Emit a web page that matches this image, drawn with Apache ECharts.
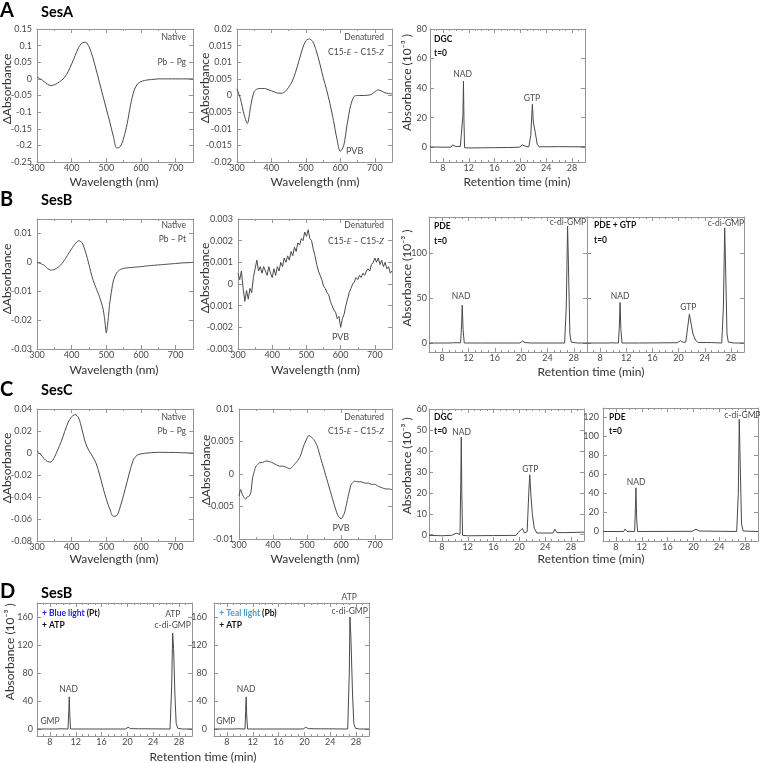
<!DOCTYPE html>
<html><head><meta charset="utf-8">
<script src="https://cdn.jsdelivr.net/npm/echarts@6/dist/echarts.min.js"></script>
<style>html,body{margin:0;padding:0;background:#fff}#c{width:760px;height:763px}</style>
</head><body><div id="c"></div>
<script>
// ---------------- DATA ----------------
const wl10 = [300,310,320,330,340,350,360,370,380,390,400,410,420,430,440,450,460,470,480,490,500,510,520,530,540,550,560,570,580,590,600,610,620,630,640,650,660,670,680,690,700,710,720,730,740,750];
const wl5 = [300,305,310,315,320,325,330,335,340,345,350,355,360,365,370,375,380,385,390,395,400,405,410,415,420,425,430,435,440,445,450,455,460,465,470,475,480,485,490,495,500,505,510,515,520,525,530,535,540,545,550,555,560,565,570,575,580,585,590,595,600,605,610,615,620,625,630,635,640,645,650,655,660,665,670,675,680,685,690,695,700,705,710,715,720,725,730,735,740,745,750];

const sesA_native = [0.005,0.0,-0.008,-0.016,-0.020,-0.018,-0.012,-0.005,0.005,0.022,0.045,0.070,0.094,0.108,0.110,0.097,0.068,0.030,-0.010,-0.050,-0.090,-0.130,-0.172,-0.208,-0.204,-0.178,-0.135,-0.078,-0.035,-0.015,-0.008,-0.005,-0.003,-0.002,-0.001,0,0,0,0,0,0,0,0,0,0,0];
const sesA_denat = [0.002,-0.001,-0.0055,-0.0084,-0.003,0.0012,0.002,0.0021,0.0021,0.0018,0.0014,0.001,0.0007,0.0007,0.0012,0.0025,0.0042,0.007,0.0105,0.014,0.0165,0.017,0.0162,0.0135,0.0098,0.0055,0.0018,-0.0025,-0.0075,-0.013,-0.0168,-0.015,-0.0085,-0.003,-0.0003,0,0,0,0.0001,0.0003,0.0011,0.0017,0.0013,0.0008,0.0006,0.0005];
const sesA_DGC = [[6,0.2],[8,0.0],[9.25,0.1],[9.5,1.5],[9.75,0.3],[10.0,0.5],[10.3,0.9],[10.7,0.6],[11.0,0.2],[11.1,22],[11.18,44.7],[11.26,18],[11.35,-0.3],[12,-0.5],[14,-0.4],[16,-0.3],[18,-0.2],[19.8,0],[20.3,1.5],[20.55,2.3],[20.9,0.5],[21.3,0.3],[21.6,8],[21.85,29],[22.0,17],[22.3,10],[22.6,2],[22.9,0.3],[24,0.3],[25.6,0.4],[25.85,1.2],[26.1,0.4],[28,0.3],[30,0.3]];

const sesB_nat_wl = [300,310,320,330,340,350,360,370,380,390,400,410,420,430,440,450,460,470,480,490,495,500,505,510,520,530,540,550,560,570,580,590,600,620,640,660,680,700,720,740,750];
const sesB_native = [0.0000,-0.0004,-0.0010,-0.0021,-0.0027,-0.0025,-0.0018,-0.0007,0.0009,0.0028,0.0047,0.0064,0.0075,0.0068,0.0036,-0.0008,-0.0055,-0.0088,-0.0118,-0.0158,-0.0195,-0.0245,-0.0200,-0.0140,-0.0065,-0.0036,-0.0025,-0.0021,-0.0019,-0.0018,-0.0017,-0.0016,-0.0015,-0.0012,-0.0010,-0.0008,-0.0006,-0.0004,-0.0002,-0.0001,0.0000];
const sesB_denat = [0.0005,0.0002,0.0006,-0.0002,-0.0008,-0.0003,-0.0007,-0.0002,-0.0004,0.0003,0.0007,0.0011,0.0006,0.0008,0.0005,0.0008,0.0006,0.0004,0.0008,0.0005,0.0003,0.0007,0.0004,0.0008,0.0006,0.0010,0.0008,0.0012,0.0010,0.0013,0.0011,0.0015,0.0013,0.0017,0.0015,0.0019,0.0018,0.0021,0.0020,0.0024,0.0022,0.0025,0.0021,0.0020,0.0016,0.0013,0.0009,0.0006,0.0004,0.0002,-0.0001,-0.0002,-0.0004,-0.0005,-0.0008,-0.0010,-0.0012,-0.0013,-0.0016,-0.0015,-0.0020,-0.0016,-0.0014,-0.0010,-0.0007,-0.0004,-0.0002,0.0000,0.0001,0.0003,0.0002,0.0004,0.0003,0.0005,0.0004,0.0006,0.0007,0.0006,0.0009,0.0010,0.0012,0.0010,0.0012,0.0009,0.0011,0.0008,0.0010,0.0007,0.0008,0.0005,0.0006];
const sesB_PDE = [[6,0],[9.2,0],[9.45,2],[9.7,0.3],[10.8,0.2],[10.95,20],[11.05,42],[11.18,15],[11.35,0],[14,0],[19.8,0],[20.2,2],[20.6,0.5],[21.5,0],[26.6,0],[26.85,40],[27.05,130],[27.2,80],[27.4,10],[27.6,1],[28.5,0],[30,0]];
const sesB_PDE_GTP = [[6,0],[9.2,0],[9.5,1.5],[9.8,0.2],[10.8,0],[10.95,20],[11.05,45],[11.18,15],[11.35,0],[14,0],[19.8,0.3],[20.3,2.5],[20.7,0.8],[21.1,1],[21.4,18],[21.65,32],[21.9,22],[22.2,10],[22.6,3],[23.0,0.5],[25.0,0.5],[25.3,1.5],[25.6,0.3],[26.6,0],[26.85,40],[27.05,128],[27.2,80],[27.4,10],[27.6,1],[28.5,0],[30,0]];

const sesC_nat = [0.002,-0.001,-0.005,-0.0078,-0.0082,-0.004,0.003,0.0105,0.0196,0.028,0.033,0.0348,0.032,0.021,0.009,0.002,-0.003,-0.009,-0.019,-0.031,-0.042,-0.051,-0.0575,-0.057,-0.049,-0.038,-0.026,-0.014,-0.005,-0.0018,-0.0008,-0.0003,0,0.0003,0.0005,0.0006,0.0006,0.0006,0.0005,0.0005,0.0004,0.0003,0.0002,0.0001,0,0];
const sesC_den_wl = [300,305,310,315,320,325,330,335,340,345,350,360,370,380,390,400,410,420,430,440,450,460,470,480,490,500,505,510,520,530,540,550,560,570,580,590,600,610,620,630,640,650,660,670,680,690,700,710,720,730,740,750];
const sesC_denat = [-0.0034,-0.0024,-0.0032,-0.0036,-0.0039,-0.0035,-0.0034,-0.0028,-0.0006,0.0004,0.0012,0.0017,0.0018,0.0020,0.0019,0.0017,0.0014,0.0012,0.0012,0.0010,0.0008,0.0013,0.0019,0.0027,0.0043,0.0055,0.0059,0.0058,0.0053,0.0043,0.0025,0.0007,-0.0011,-0.0029,-0.0047,-0.0063,-0.0069,-0.0060,-0.0037,-0.0016,-0.0011,-0.0012,-0.0012,-0.0014,-0.0014,-0.0016,-0.0016,-0.0019,-0.0021,-0.0023,-0.0023,-0.0024];
const sesC_DGC = [[6,-0.3],[8,-0.5],[9.5,-0.3],[10.2,0.7],[10.5,0.6],[10.8,0.2],[10.92,25],[11.0,46.6],[11.08,20],[11.2,-0.3],[12,-0.5],[16,-0.4],[19.5,-0.3],[19.8,1],[20.0,0.3],[20.45,3],[20.8,0.8],[21.2,1.5],[21.45,20],[21.6,28.6],[21.8,18],[22.0,10],[22.3,3],[22.7,0.8],[25.2,0.8],[25.5,2.6],[25.8,1],[27,1.0],[30,1.2]];
const sesC_PDE = [[6,0],[9.2,0],[9.4,2.5],[9.7,0.2],[10.9,0],[11.02,25],[11.1,46],[11.2,15],[11.35,0],[19.8,0.2],[20.4,2.5],[20.9,0.5],[26.7,0],[26.95,40],[27.1,118],[27.25,70],[27.45,8],[27.7,0.5],[30,0]];

const sesB_blue = [[6,0],[7.3,0],[7.6,1.2],[7.9,0],[9.1,0],[9.4,2.5],[9.7,0.3],[10.8,0],[10.92,25],[11.0,46],[11.08,20],[11.2,0],[19.7,0],[20.1,2.5],[20.5,0.5],[21.7,0.3],[22.0,2.5],[22.4,0.3],[26.6,0],[26.85,60],[27.0,137],[27.15,115],[27.35,50],[27.55,8],[27.8,1],[28.5,0],[30,0]];
const sesB_teal = [[6,0],[7.3,0],[7.6,1.5],[7.9,0],[9.1,0],[9.4,2.5],[9.7,0.3],[10.8,0],[10.9,25],[10.98,46],[11.06,20],[11.2,0],[19.8,0],[20.2,2.5],[20.6,0.5],[21.8,0.3],[22.1,2.5],[22.5,0.3],[26.7,0],[26.95,80],[27.05,160],[27.2,130],[27.45,50],[27.65,8],[27.9,1],[28.5,0],[30,0]];

// tick values
const specX = [300,400,500,600,700];
const specXminor = [350,450,550,650];
const chromX = [8,12,16,20,24,28];
const chromXminor = [7,9,10,11,13,14,15,17,18,19,21,22,23,25,26,27,29];
const yA1 = [-0.25,-0.2,-0.15,-0.1,-0.05,0,0.05,0.1,0.15];
const yA2 = [-0.02,-0.015,-0.01,-0.005,0,0.005,0.01,0.015,0.02];
const yA3 = [0,20,40,60,80];
const yB1 = [-0.03,-0.02,-0.01,0,0.01];
const yB2 = [-0.003,-0.002,-0.001,0,0.001,0.002,0.003];
const yB3 = [0,50,100];
const yC1 = [-0.08,-0.06,-0.04,-0.02,0,0.02,0.04];
const yC2 = [-0.01,-0.005,0,0.005,0.01];
const yC3 = [0,10,20,30,40,50,60];
const yC4 = [0,20,40,60,80,100,120];
const yD = [0,40,80,120,160];

// ---------------- BUILD ----------------
const FONT = 'Lato, "Open Sans", sans-serif';
const FRAME = '#959595';
const LINE = '#4a4a4a';
const TXT = '#4a4a4a';
const fmt = v => String(Math.round(v * 1e6) / 1e6);
const zip = (a, b) => a.map((v, i) => [v, b[i]]);

const grids = [], xAxes = [], yAxes = [], series = [], graphics = [];

function axisX(gi, pos, r, ticks, labels, len, line) {
  return {gridIndex: gi, type: 'value', position: pos, min: r[0], max: r[1],
    axisLine: {show: line, onZero: false, lineStyle: {color: FRAME, width: 1}},
    axisTick: {show: true, inside: true, length: len, customValues: ticks, lineStyle: {color: FRAME, width: 1}},
    axisLabel: {show: labels, customValues: ticks, color: TXT, fontSize: 9, fontFamily: FONT, margin: 2, formatter: fmt},
    splitLine: {show: false}};
}
function axisY(gi, pos, r, ticks, labels, margin) {
  return {gridIndex: gi, type: 'value', position: pos, min: r[0], max: r[1],
    axisLine: {show: true, onZero: false, lineStyle: {color: FRAME, width: 1}},
    axisTick: {show: true, inside: true, length: 4, customValues: ticks, lineStyle: {color: FRAME, width: 1}},
    axisLabel: {show: labels, customValues: ticks, color: TXT, fontSize: 9, fontFamily: FONT, margin: margin, formatter: fmt},
    splitLine: {show: false}};
}
function panel(o) {
  const [l, t, w, h] = o.rect;
  const gi = grids.length;
  grids.push({left: l, top: t, width: w, height: h, outerBoundsMode: 'none', containLabel: false});
  const xb = xAxes.length, yl = yAxes.length;
  xAxes.push(axisX(gi, 'bottom', o.xr, o.xt, true, 4, true));
  xAxes.push(axisX(gi, 'top', o.xr, o.xt, false, 4, true));
  yAxes.push(axisY(gi, 'left', o.yr, o.yt, o.showY !== false, o.ym || 4));
  yAxes.push(axisY(gi, 'right', o.yr, o.yt, false, 4));
  series.push({type: 'line', xAxisIndex: xb, yAxisIndex: yl, data: o.data, symbol: 'none',
    smooth: o.smooth || false, lineStyle: {color: LINE, width: 1}, silent: true, clip: true});
  const gj = grids.length;
  grids.push({left: l, top: t, width: w, height: h, outerBoundsMode: 'none', containLabel: false});
  xAxes.push(axisX(gj, 'bottom', o.xr, o.xm, false, 2, false));
  xAxes.push(axisX(gj, 'top', o.xr, o.xm, false, 2, false));
  yAxes.push({gridIndex: gj, type: 'value', min: o.yr[0], max: o.yr[1], show: false});
}

// Row A
panel({rect: [37, 29, 156, 133], xr: [300, 750], xt: specX, xm: specXminor, yr: [-0.25, 0.15], yt: yA1, ym: 5, data: zip(wl10, sesA_native), smooth: 0.3});
panel({rect: [237, 29, 155, 133], xr: [300, 750], xt: specX, xm: specXminor, yr: [-0.02, 0.02], yt: yA2, ym: 5, data: zip(wl10, sesA_denat), smooth: 0.3});
panel({rect: [430, 29, 155, 133], xr: [6, 30], xt: chromX, xm: chromXminor, yr: [-10, 80], yt: yA3, ym: 3, data: sesA_DGC});
// Row B
panel({rect: [37, 219, 156, 130], xr: [300, 750], xt: specX, xm: specXminor, yr: [-0.03, 0.015], yt: yB1, ym: 5, data: zip(sesB_nat_wl, sesB_native), smooth: 0.2});
panel({rect: [238, 219, 154, 130], xr: [300, 750], xt: specX, xm: specXminor, yr: [-0.003, 0.003], yt: yB2, ym: 5, data: zip(wl5, sesB_denat)});
panel({rect: [429, 217, 158, 135], xr: [6, 30], xt: chromX, xm: chromXminor, yr: [-10, 140], yt: yB3, ym: 2, data: sesB_PDE});
panel({rect: [587, 217, 157, 135], xr: [6, 30], xt: chromX, xm: chromXminor, yr: [-10, 140], yt: yB3, showY: false, data: sesB_PDE_GTP});
// Row C
panel({rect: [37, 409, 156, 132], xr: [300, 750], xt: specX, xm: specXminor, yr: [-0.08, 0.04], yt: yC1, ym: 5, data: zip(wl10, sesC_nat), smooth: 0.3});
panel({rect: [239, 409, 153, 130], xr: [300, 750], xt: specX, xm: specXminor, yr: [-0.01, 0.01], yt: yC2, ym: 5, data: zip(sesC_den_wl, sesC_denat), smooth: 0.2});
panel({rect: [429, 409, 155, 132], xr: [6, 30], xt: chromX, xm: chromXminor, yr: [-3, 60], yt: yC3, ym: 2, data: sesC_DGC});
panel({rect: [603, 408, 155, 133], xr: [6, 30], xt: chromX, xm: chromXminor, yr: [-10, 130], yt: yC4, ym: 4, data: sesC_PDE});
// Row D
panel({rect: [37, 603, 155, 133], xr: [6, 30], xt: chromX, xm: chromXminor, yr: [-10, 180], yt: yD, ym: 4, data: sesB_blue});
panel({rect: [214, 603, 155, 133], xr: [6, 30], xt: chromX, xm: chromXminor, yr: [-10, 180], yt: yD, ym: 7, data: sesB_teal});

// ---------------- TEXT ----------------
const mctx = document.createElement('canvas').getContext('2d');
function fontOf(o) { return (o.italic ? 'italic ' : '') + (o.bold ? 'bold ' : '') + (o.size || 8.5) + 'px ' + FONT; }
function measure(text, o) { mctx.font = fontOf(o || {}); return mctx.measureText(text).width; }
function txt(text, x, y, o) {
  o = o || {};
  const st = {text: text, fill: o.color || TXT, font: fontOf(o), align: o.align || 'center', verticalAlign: 'middle'};
  graphics.push({type: 'text', x: x, y: y, rotation: o.rot || 0, silent: true, z: 100, style: st});
}
// sequence of [text, opts] pieces laid out left-to-right (right-aligned at x if align==='right')
function seq(parts, x, y, align) {
  const widths = parts.map(p => measure(p[0], p[1]));
  let cx = align === 'right' ? x - widths.reduce((a, b) => a + b, 0) : x;
  parts.forEach((p, i) => { txt(p[0], cx, y, Object.assign({}, p[1], {align: 'left'})); cx += widths[i]; });
}
const n = {}, it = {italic: true};
const c15 = [['C15-', n], ['E', it], [' – C15-', n], ['Z', it]];

// headers
[['A', 'SesA', 11], ['B', 'SesB', 199.5], ['C', 'SesC', 389.5], ['D', 'SesB', 592]].forEach(([L, S, y]) => {
  txt(L, 0, y, {bold: true, size: 20, color: '#000', align: 'left'});
  txt(S, 41, y + 1, {bold: true, size: 14.5, color: '#000', align: 'left'});
});
// spectra inner labels
txt('Native', 186, 37.7, {align: 'right'}); txt('Pb – Pg', 186, 62.7, {align: 'right'});
txt('Denatured', 384, 37.7, {align: 'right'}); seq(c15, 384, 52.3, 'right');
txt('PVB', 346, 150.7, {align: 'left', size: 9});
txt('Native', 186, 225, {align: 'right'}); txt('Pb – Pt', 186, 239, {align: 'right'});
txt('Denatured', 384, 225.7, {align: 'right'}); seq(c15, 384, 241.7, 'right');
txt('PVB', 340.5, 336.7, {size: 9});
txt('Native', 186, 417.7, {align: 'right'}); txt('Pb – Pg', 186, 431.7, {align: 'right'});
txt('Denatured', 384, 417.7, {align: 'right'}); seq(c15, 384, 431.7, 'right');
txt('PVB', 341, 528.3, {size: 9});
// chromatogram inner labels
const B = {bold: true, align: 'left', color: '#111'};
txt('DGC', 434, 39, B); txt('t=0', 434, 53.3, B);
txt('NAD', 462.5, 74); txt('GTP', 532, 98.7);
txt('PDE', 434, 226.7, B); txt('t=0', 434, 241, B);
txt('NAD', 461, 296); txt('c-di-GMP', 568, 222.3);
txt('PDE + GTP', 594, 225.7, B); txt('t=0', 594, 240.7, B);
txt('NAD', 620, 296.7); txt('GTP', 688.3, 307.7); txt('c-di-GMP', 726, 223.3);
txt('DGC', 434, 417.7, B); txt('t=0', 434, 431.7, B);
txt('NAD', 461.5, 432.3); txt('GTP', 530.3, 469.3);
txt('PDE', 609, 417.7, B); txt('t=0', 609, 431.7, B);
txt('NAD', 636, 482.3); txt('c-di-GMP', 742.5, 415.7);
// row D
seq([['+ Blue light', {bold: true, color: '#2323d8'}], [' (Pt)', {bold: true, color: '#111'}]], 42, 613.3);
txt('+ ATP', 42, 625, B);
txt('GMP', 50, 721.7); txt('NAD', 68.7, 689.3); txt('ATP', 172.8, 614); txt('c-di-GMP', 172.7, 625.7);
seq([['+ Teal light', {bold: true, color: '#4a9bd0'}], [' (Pb)', {bold: true, color: '#111'}]], 219.3, 613.3);
txt('+ ATP', 219.3, 625, B);
txt('GMP', 225.8, 721.7); txt('NAD', 246.2, 689.3); txt('ATP', 349.2, 597.7); txt('c-di-GMP', 349.7, 611.7);
// axis titles
const AT = {size: 12, color: '#333'};
const R = Object.assign({rot: Math.PI / 2}, AT);
txt('Wavelength (nm)', 114, 182, AT); txt('Wavelength (nm)', 315, 182, AT);
txt('Wavelength (nm)', 114, 370, AT); txt('Wavelength (nm)', 315.5, 370, AT);
txt('Wavelength (nm)', 114, 559.3, AT); txt('Wavelength (nm)', 315, 559.3, AT);
txt('Retention time (min)', 517, 182, AT);
txt('Retention time (min)', 591, 371.7, AT);
txt('Retention time (min)', 591, 559.3, AT);
txt('Retention time (min)', 203, 756.7, AT);
txt('ΔAbsorbance', 7, 89, R); txt('ΔAbsorbance', 205, 88, R);
txt('ΔAbsorbance', 7, 279, R); txt('ΔAbsorbance', 205, 278, R);
txt('ΔAbsorbance', 7, 468, R); txt('ΔAbsorbance', 206.5, 470, R);
txt('Absorbance (10⁻³ )', 407.5, 82.5, R);
txt('Absorbance (10⁻³ )', 407.5, 278, R);
txt('Absorbance (10⁻³ )', 406.7, 465.8, R);
txt('Absorbance (10⁻³ )', 10, 651.7, R);

const chart = echarts.init(document.getElementById('c'), null, {renderer: 'canvas', width: 760, height: 763});
chart.setOption({animation: false, backgroundColor: '#fff', grid: grids, xAxis: xAxes, yAxis: yAxes, series: series, graphic: graphics});
</script></body></html>
